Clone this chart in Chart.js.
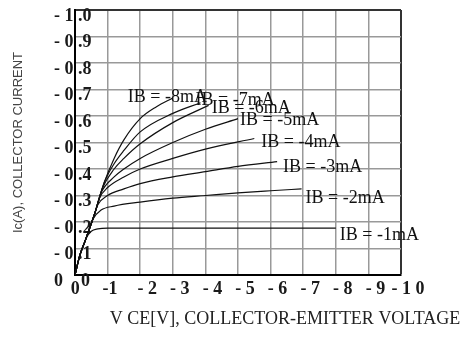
<!DOCTYPE html>
<html>
<head>
<meta charset="utf-8">
<script src="https://cdn.jsdelivr.net/npm/chart.js@4.4.0/dist/chart.umd.min.js"></script>
<style>
  body { margin: 0; background: #fff; }
</style>
</head>
<body>
<canvas id="myCanvas" width="466" height="338"></canvas>
<script>
'use strict';

// tick labels (index = |value| in steps)
let xTickLabels = ['0   ', '-1  ', '- 2', '- 3', '- 4', '- 5', '- 6', '- 7', '- 8', '- 9', '- 1 0'];
let yTickLabels = ['0    0', '- 0 .1', '- 0 .2', '- 0 .3', '- 0 .4', '- 0 .5', '- 0 .6', '- 0 .7', '- 0 .8', '- 0 .9', '- 1 .0'];

let xTitle = 'V CE[V], COLLECTOR-EMITTER VOLTAGE';
let yTitle = 'Ic(A), COLLECTOR CURRENT';

let ibLabels = ['IB = -1mA', 'IB = -2mA', 'IB = -3mA', 'IB = -4mA', 'IB = -5mA', 'IB = -6mA', 'IB = -7mA', 'IB = -8mA'];

// curves: VCE [V] and IC [A]
let ib1Vce = [0, -0.15, -0.35, -0.5, -0.7, -1.0, -8.0];
let ib1Ic  = [0, -0.075, -0.14, -0.165, -0.174, -0.177, -0.177];

let ib2Vce = [0, -0.15, -0.3, -0.55, -0.8, -1.2, -2, -3, -4, -5, -6, -6.95];
let ib2Ic  = [0, -0.075, -0.125, -0.21, -0.245, -0.26, -0.275, -0.29, -0.30, -0.31, -0.318, -0.325];

let ib3Vce = [0, -0.15, -0.3, -0.6, -0.7, -1.0, -1.5, -2, -3, -4, -5, -6.2];
let ib3Ic  = [0, -0.075, -0.125, -0.23, -0.265, -0.30, -0.325, -0.345, -0.37, -0.39, -0.41, -0.428];

let ib4Vce = [0, -0.15, -0.3, -0.6, -0.75, -1.0, -1.5, -2, -3, -4, -5.5];
let ib4Ic  = [0, -0.075, -0.125, -0.23, -0.29, -0.33, -0.37, -0.40, -0.44, -0.475, -0.515];

let ib5Vce = [0, -0.15, -0.3, -0.6, -0.8, -1.2, -1.5, -2, -3, -4, -5.0];
let ib5Ic  = [0, -0.075, -0.125, -0.23, -0.31, -0.37, -0.40, -0.44, -0.50, -0.55, -0.59];

let ib6Vce = [0, -0.15, -0.3, -0.6, -0.85, -1.2, -1.5, -2, -3, -4.1];
let ib6Ic  = [0, -0.075, -0.125, -0.23, -0.33, -0.40, -0.44, -0.495, -0.575, -0.64];

let ib7Vce = [0, -0.15, -0.3, -0.6, -0.9, -1.2, -1.5, -2, -3, -3.85];
let ib7Ic  = [0, -0.075, -0.125, -0.23, -0.35, -0.42, -0.47, -0.54, -0.61, -0.65];

let ib8Vce = [0, -0.15, -0.3, -0.6, -0.9, -1.2, -1.5, -2, -2.5, -3.0];
let ib8Ic  = [0, -0.075, -0.125, -0.23, -0.35, -0.44, -0.51, -0.59, -0.635, -0.668];

let allVce = [ib1Vce, ib2Vce, ib3Vce, ib4Vce, ib5Vce, ib6Vce, ib7Vce, ib8Vce];
let allIc  = [ib1Ic, ib2Ic, ib3Ic, ib4Ic, ib5Ic, ib6Ic, ib7Ic, ib8Ic];

let serif = '"Liberation Serif", "Times New Roman", serif';

function makePoints(xs, ys) {
	let pts = [];
	for (let i = 0; i < xs.length; i++) {
		pts.push({x: xs[i], y: ys[i]});
	}
	return pts;
}

let datasets = [];
for (let i = 0; i < allVce.length; i++) {
	datasets.push({
		label: ibLabels[i],
		data: makePoints(allVce[i], allIc[i]),
		borderColor: '#111',
		borderWidth: 1.2,
		pointRadius: 0,
		fill: false,
		cubicInterpolationMode: 'monotone'
	});
}

// where each IB text sits relative to the end of its curve (px)
let labelShift = [[4, 7], [4, 9], [6, 6], [7, 4], [2, 2], [3, 3], [-5, -2], [-45, -1]];

let curveLabels = {
	id: 'curveLabels',
	afterDatasetsDraw(chart) {
		let ctx = chart.ctx;
		ctx.save();
		ctx.font = '18px ' + serif;
		ctx.fillStyle = '#111';
		ctx.textAlign = 'left';
		ctx.textBaseline = 'middle';
		for (let i = 0; i < ibLabels.length; i++) {
			let pts = chart.getDatasetMeta(i).data;
			let last = pts[pts.length - 1];
			ctx.fillText(ibLabels[i], last.x + labelShift[i][0], last.y + labelShift[i][1]);
		}
		ctx.restore();
	}
};

let bottomTitle = {
	id: 'bottomTitle',
	afterDraw(chart) {
		let ctx = chart.ctx;
		ctx.save();
		ctx.font = '18px ' + serif;
		ctx.fillStyle = '#222';
		ctx.textAlign = 'center';
		ctx.textBaseline = 'middle';
		ctx.fillText(xTitle, 285, 319);
		ctx.restore();
	}
};

let myChart = document.getElementById('myCanvas').getContext('2d');
let myLineChart = new Chart(myChart, {
	type: 'line',
	data: { datasets: datasets },
	plugins: [curveLabels, bottomTitle],
	options: {
		responsive: false,
		animation: false,
		layout: { padding: { left: 0, top: 10, right: 65, bottom: 0 } },
		plugins: {
			legend: { display: false },
			tooltip: { enabled: false }
		},
		scales: {
			x: {
				type: 'linear',
				min: -10,
				max: 0,
				reverse: true,
				afterFit: function(scale) {
					scale.height = 63;
					scale.paddingLeft = 0;
					scale.paddingRight = 0;
				},
				border: { color: '#000', width: 2 },
				grid: {
					drawTicks: false,
					color: function(c) { return c.tick && c.tick.value === -10 ? '#333' : '#999'; },
					lineWidth: function(c) { return c.tick && c.tick.value === -10 ? 2 : 1.5; }
				},
				ticks: {
					stepSize: 1,
					maxRotation: 0,
					autoSkip: false,
					labelOffset: 7,
					padding: 4,
					color: '#1a1a1a',
					font: { family: serif, size: 18, weight: 'bold' },
					callback: function(value) { return xTickLabels[Math.round(-value)]; }
				}
			},
			y: {
				type: 'linear',
				min: -1,
				max: 0,
				reverse: true,
				afterFit: function(scale) {
					scale.width = 75;
					scale.paddingTop = 0;
					scale.paddingBottom = 0;
				},
				border: { color: '#000', width: 2 },
				grid: {
					drawTicks: false,
					color: function(c) { return c.tick && c.tick.value === -1 ? '#333' : '#999'; },
					lineWidth: function(c) { return c.tick && c.tick.value === -1 ? 2 : 1.5; }
				},
				title: {
					display: true,
					text: yTitle,
					color: '#444',
					padding: { top: 11, bottom: 0 },
					font: { family: '"Liberation Sans", Arial, sans-serif', size: 13 }
				},
				ticks: {
					stepSize: 0.1,
					autoSkip: false,
					mirror: true,
					padding: -21,
					labelOffset: 6,
					color: '#1a1a1a',
					font: { family: serif, size: 18, weight: 'bold' },
					callback: function(value) { return yTickLabels[Math.round(-value * 10)]; }
				}
			}
		}
	}
});
</script>
</body>
</html>
